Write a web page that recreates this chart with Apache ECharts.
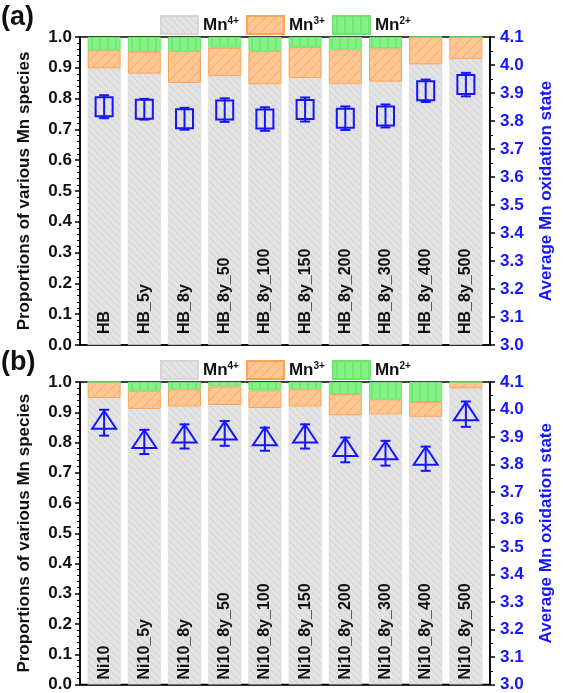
<!DOCTYPE html>
<html><head><meta charset="utf-8">
<script src="https://cdn.jsdelivr.net/npm/echarts@6/dist/echarts.min.js"></script>
<style>html,body{margin:0;padding:0;background:#fff}#c{width:563px;height:693px}</style>
</head><body><div id="c"></div>
<script>
// ---- data ----
const catsA = ['HB','HB_5y','HB_8y','HB_8y_50','HB_8y_100','HB_8y_150','HB_8y_200','HB_8y_300','HB_8y_400','HB_8y_500'];
const mn4A = [0.898,0.881,0.851,0.873,0.846,0.867,0.848,0.855,0.911,0.929];
const mn3A = [0.059,0.071,0.103,0.092,0.108,0.100,0.111,0.108,0.089,0.071];
const mn2A = [0.043,0.048,0.046,0.035,0.046,0.033,0.041,0.037,0.000,0.000];
const oxA  = [3.851,3.842,3.808,3.839,3.807,3.841,3.810,3.818,3.908,3.930];
const errA = [0.041,0.037,0.039,0.042,0.042,0.043,0.042,0.041,0.040,0.042];

const catsB = ['Ni10','Ni10_5y','Ni10_8y','Ni10_8y_50','Ni10_8y_100','Ni10_8y_150','Ni10_8y_200','Ni10_8y_300','Ni10_8y_400','Ni10_8y_500'];
const mn4B = [0.947,0.911,0.919,0.924,0.914,0.919,0.890,0.893,0.885,0.979];
const mn3B = [0.053,0.060,0.057,0.061,0.058,0.057,0.070,0.050,0.049,0.021];
const mn2B = [0.000,0.029,0.024,0.015,0.028,0.024,0.040,0.057,0.066,0.000];
const oxB  = [3.952,3.882,3.902,3.913,3.892,3.902,3.853,3.841,3.821,3.983];
const errB = [0.047,0.044,0.044,0.045,0.042,0.044,0.045,0.045,0.044,0.046];

const speciesNames = ['Mn4+','Mn3+','Mn2+'];

// ---- patterns ----
function hatch(bg, line, dir, size, lw) {
  const c = document.createElement('canvas'); c.width = c.height = size;
  const ctx = c.getContext('2d');
  ctx.fillStyle = bg; ctx.fillRect(0,0,size,size);
  ctx.strokeStyle = line; ctx.lineWidth = lw; ctx.beginPath();
  if (dir === '/') {
    ctx.moveTo(0,size); ctx.lineTo(size,0);
    ctx.moveTo(-2,2); ctx.lineTo(2,-2);
    ctx.moveTo(size-2,size+2); ctx.lineTo(size+2,size-2);
  } else if (dir === '\\') {
    ctx.moveTo(0,0); ctx.lineTo(size,size);
    ctx.moveTo(-2,size-2); ctx.lineTo(2,size+2);
    ctx.moveTo(size-2,-2); ctx.lineTo(size+2,2);
  } else {
    ctx.moveTo(size/2,0); ctx.lineTo(size/2,size);
  }
  ctx.stroke();
  return {image: c, repeat: 'repeat'};
}
const grayPat = hatch('#e3e3e3', '#d0d0d0', '\\', 7, 1);
const orangePat = hatch('#fec692', '#f7ac68', '/', 10, 1);
const greenPat = hatch('#84f284', '#62da62', '|', 8, 1);

const FONT = 'Liberation Sans, Arial, sans-serif';
const BLUE = '#1414ff';

function legendCfg(top, suffix) {
  return {
    top: top, left: 155, itemWidth: 37, itemHeight: 18, itemGap: 7, icon: 'rect',
    data: speciesNames.map(n => n + suffix),
    formatter: n => '{a|Mn}{s|' + n.trim().slice(2) + '}',
    textStyle: {
      rich: {
        a: {fontFamily: FONT, fontWeight: 'bold', fontSize: 17, color: '#111'},
        s: {fontFamily: FONT, fontWeight: 'bold', fontSize: 10, color: '#111', padding: [0,0,8,0]}
      }
    }
  };
}

const grids = [
  {left: 80, right: 61, top: 37, bottom: 348, show: true, borderColor: '#000', borderWidth: 1.5, backgroundColor: 'transparent'},
  {left: 80, right: 61, top: 382, bottom: 5, show: true, borderColor: '#000', borderWidth: 1.5, backgroundColor: 'transparent'}
];

function xAx(g) {
  return {type: 'value', gridIndex: g, min: -0.6, max: 9.6, show: true,
    axisLine: {show: true, onZero: false, lineStyle: {color: '#000', width: 1.5}}, axisTick: {show: false},
    axisLabel: {show: false}, splitLine: {show: false}};
}
function yLeft(g) {
  return {type: 'value', gridIndex: g, min: 0, max: 1, interval: 0.1, position: 'left',
    name: 'Proportions of various Mn species', nameLocation: 'middle', nameGap: 47,
    nameTextStyle: {fontFamily: FONT, fontWeight: 'bold', fontSize: 17, color: '#111'},
    axisLine: {show: true, onZero: false, lineStyle: {color: '#000', width: 1.5}},
    axisTick: {show: true, length: 5, lineStyle: {color: '#000', width: 1.5}},
    minorTick: {show: true, splitNumber: 5, length: 3, lineStyle: {color: '#000', width: 1}},
    axisLabel: {margin: 8, fontFamily: FONT, fontWeight: 'bold', fontSize: 17, color: '#111',
      formatter: v => v.toFixed(1)},
    splitLine: {show: false}};
}
function yRight(g) {
  return {type: 'value', gridIndex: g, min: 3.0, max: 4.1, interval: 0.1, position: 'right',
    name: 'Average Mn oxidation state', nameLocation: 'middle', nameGap: 48,
    nameTextStyle: {fontFamily: FONT, fontWeight: 'bold', fontSize: 17, color: BLUE},
    axisLine: {show: true, onZero: false, lineStyle: {color: '#000', width: 1.5}},
    axisTick: {show: true, length: 5, lineStyle: {color: '#000', width: 1.5}},
    minorTick: {show: true, splitNumber: 2, length: 3, lineStyle: {color: '#000', width: 1}},
    axisLabel: {margin: 10, fontFamily: FONT, fontWeight: 'bold', fontSize: 17, color: BLUE,
      formatter: v => v.toFixed(1)},
    splitLine: {show: false}};
}

function barSeries(g, cats, m4, m3, m2, labelDist, suffix) {
  // data stored as [value, index] so the stacked dimension is the value (y)
  const base = {type: 'bar', xAxisIndex: g, yAxisIndex: g * 2, stack: 'p' + g, barWidth: 33,
    encode: {x: 1, y: 0}};
  return [
    Object.assign({}, base, {name: 'Mn4+' + suffix, data: m4.map((v,i)=>[v,i]),
      itemStyle: {color: grayPat, borderColor: '#d6d6d6', borderWidth: 0.5},
      label: {show: true, position: 'insideBottom', rotate: 90, align: 'left', verticalAlign: 'middle',
        distance: labelDist, formatter: p => cats[p.dataIndex],
        fontFamily: FONT, fontWeight: 'bold', fontSize: 16, color: '#111'}}),
    Object.assign({}, base, {name: 'Mn3+' + suffix, data: m3.map((v,i)=>[v,i]),
      itemStyle: {color: orangePat, borderColor: '#f6a456', borderWidth: 1}}),
    Object.assign({}, base, {name: 'Mn2+' + suffix, data: m2.map((v,i)=>[v,i]),
      itemStyle: {color: greenPat, borderColor: '#6ee66e', borderWidth: 1}})
  ];
}

function markerSeries(g, ox, err, shape) {
  return {
    type: 'custom', xAxisIndex: g, yAxisIndex: g * 2 + 1, clip: false, z: 10,
    data: ox.map((v,i)=>[i, v, err[i]]),
    encode: {x: 0, y: 1},
    renderItem: function (params, api) {
      const x = api.value(0), v = api.value(1), e = api.value(2);
      const c = api.coord([x, v]);
      const t = api.coord([x, v + e]);
      const b = api.coord([x, v - e]);
      const st = {stroke: BLUE, lineWidth: 2, fill: null};
      const children = [
        {type: 'line', shape: {x1: c[0], y1: t[1], x2: c[0], y2: b[1]}, style: st},
        {type: 'line', shape: {x1: c[0]-5, y1: t[1], x2: c[0]+5, y2: t[1]}, style: st},
        {type: 'line', shape: {x1: c[0]-5, y1: b[1], x2: c[0]+5, y2: b[1]}, style: st}
      ];
      if (shape === 'box') {
        children.push({type: 'rect', shape: {x: c[0]-8.5, y: c[1]-9.5, width: 17, height: 19}, style: st});
      } else {
        children.push({type: 'polygon', shape: {points: [[c[0], c[1]-12], [c[0]+12, c[1]+6], [c[0]-12, c[1]+6]]}, style: st});
      }
      return {type: 'group', children: children};
    }
  };
}

const chart = echarts.init(document.getElementById('c'), null, {renderer: 'canvas'});
chart.setOption({
  backgroundColor: '#fff',
  animation: false,
  grid: grids,
  legend: [legendCfg(10, ''), legendCfg(355, ' ')],
  graphic: [
    {type: 'text', left: 1, top: 4, style: {text: '(a)', fontFamily: FONT, fontWeight: 'bold', fontSize: 27, fill: '#111'}},
    {type: 'text', left: 1, top: 349, style: {text: '(b)', fontFamily: FONT, fontWeight: 'bold', fontSize: 27, fill: '#111'}}
  ],
  xAxis: [xAx(0), xAx(1)],
  yAxis: [yLeft(0), yRight(0), yLeft(1), yRight(1)],
  series: [].concat(
    barSeries(0, catsA, mn4A, mn3A, mn2A, 11, ''),
    barSeries(1, catsB, mn4B, mn3B, mn2B, 5, ' '),
    [markerSeries(0, oxA, errA, 'box'), markerSeries(1, oxB, errB, 'tri')]
  )
});
</script></body></html>
